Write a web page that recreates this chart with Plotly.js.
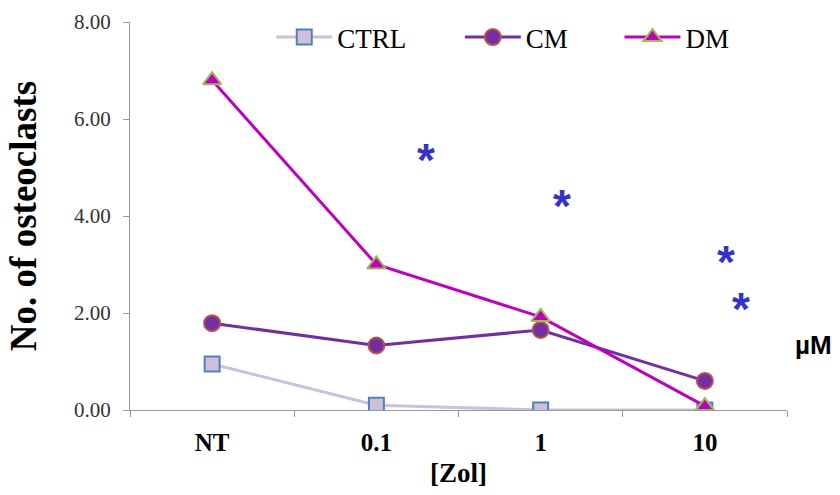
<!DOCTYPE html>
<html><head><meta charset="utf-8">
<script src="https://cdn.plot.ly/plotly-3.0.1.min.js"></script>
<style>body{margin:0;background:#fff}#c{width:840px;height:495px}</style>
</head><body><div id="c"></div>
<script>
const categories = ["NT", "0.1", "1", "10"];
const ctrl = [0.95, 0.10, 0.00, 0.00];
const cm = [1.79, 1.33, 1.65, 0.60];
const dm = [6.80, 3.00, 1.92, 0.08];
const yTicks = [0, 2, 4, 6, 8];
const yTickLabels = ["0.00", "2.00", "4.00", "6.00", "8.00"];
const starX = [1.30, 2.13, 3.13, 3.22];
const starY = [5.30, 4.35, 3.20, 2.23];

const traces = [
  {x: categories, y: ctrl, name: "CTRL", type: "scatter", mode: "lines+markers", legend: "legend",
   line: {color: "#ccc0da", width: 3},
   marker: {symbol: "square", size: 15, color: "#ccc0da", line: {color: "#4f81bd", width: 2}}},
  {x: categories, y: cm, name: "CM", type: "scatter", mode: "lines+markers", legend: "legend2",
   line: {color: "#7030a0", width: 3},
   marker: {symbol: "circle", size: 16, color: "#7030a0", line: {color: "#c0504d", width: 2}}},
  {x: categories, y: dm, name: "DM", type: "scatter", mode: "lines+markers", legend: "legend3",
   line: {color: "#c000c0", width: 3},
   marker: {symbol: "triangle-up", size: 16, color: "#c000c0", line: {color: "#9bbb59", width: 2}}}
];

const annotations = starX.map((x, i) => ({
  x: x, y: starY[i], xref: "x", yref: "y", text: "<b>*</b>", showarrow: false,
  font: {family: "Arial, Liberation Sans", size: 46, color: "#3333cc"}, yshift: -7
}));
annotations.push({x: 1.0, y: 1.34, xref: "paper", yref: "y", xanchor: "left", xshift: 6,
  text: "<b>µM</b>", showarrow: false,
  font: {family: "Arial, Liberation Sans", size: 26, color: "#000"}});

const legFont = {family: "Times New Roman, Liberation Serif", size: 27, color: "#000"};
const mkLeg = (x) => ({orientation: "h", x: x, y: 0.96, xref: "paper", yref: "paper",
  xanchor: "left", yanchor: "middle", font: legFont, bgcolor: "rgba(0,0,0,0)",
  borderwidth: 0, itemwidth: 56});

const layout = {
  width: 840, height: 495,
  margin: {l: 130, r: 53, t: 22, b: 85},
  paper_bgcolor: "#fff", plot_bgcolor: "#fff",
  showlegend: true,
  legend: mkLeg(0.215),
  legend2: mkLeg(0.502),
  legend3: mkLeg(0.745),
  xaxis: {type: "category", range: [-0.5, 3.5], showgrid: false, zeroline: false,
    showline: true, linecolor: "#999", linewidth: 1,
    ticks: "outside", tickson: "boundaries", ticklen: 6, tickcolor: "#999",
    ticklabelstandoff: 10,
    tickfont: {family: "Times New Roman, Liberation Serif", size: 25, color: "#000", weight: "bold"},
    title: {text: "<b>[Zol]</b>", standoff: 8, font: {family: "Times New Roman, Liberation Serif", size: 27, color: "#000"}}},
  yaxis: {range: [0, 8], showgrid: false, zeroline: false,
    showline: true, linecolor: "#999", linewidth: 1,
    ticks: "outside", ticklen: 6, tickcolor: "#999",
    ticklabelstandoff: 8,
    tickvals: yTicks, ticktext: yTickLabels,
    tickfont: {family: "Times New Roman, Liberation Serif", size: 21, color: "#333"},
    title: {text: "<b>No. of osteoclasts</b>", standoff: 26, font: {family: "Times New Roman, Liberation Serif", size: 37, color: "#000"}}},
  annotations: annotations
};

Plotly.newPlot("c", traces, layout, {displayModeBar: false});
</script></body></html>
